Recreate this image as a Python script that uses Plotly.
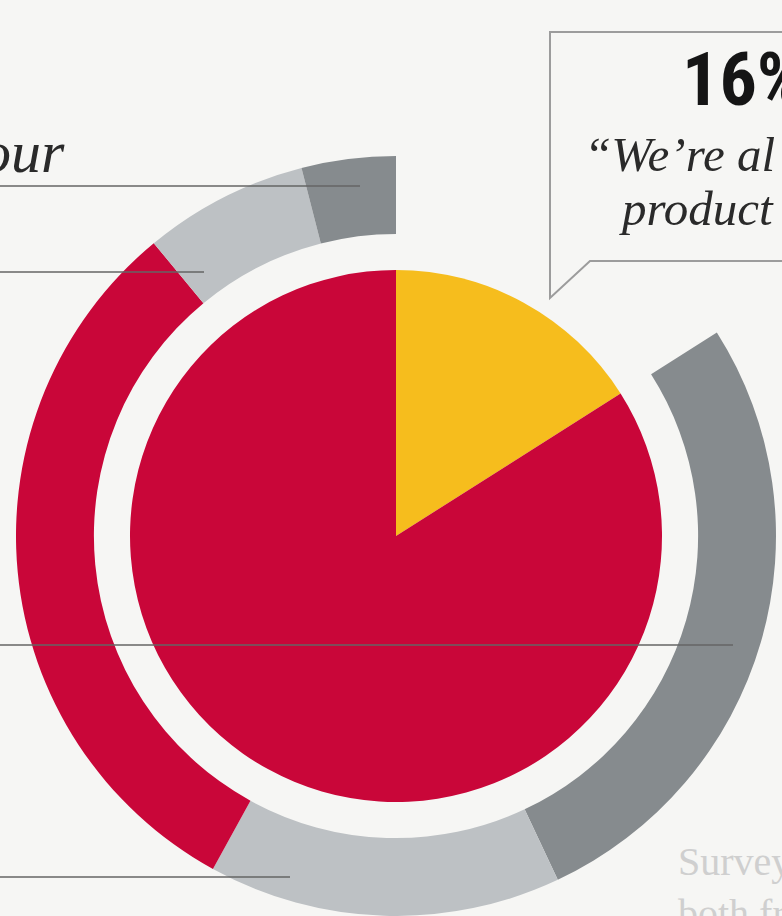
import plotly.graph_objects as go

W, H = 782, 916

# ---- data ----
inner_labels = ["Already in production", "Other"]
inner_values = [16, 84]
inner_colors = ["#f6bd1d", "#c90639"]

outer_labels = ["(gap)", "Segment A", "Segment B", "Segment C", "Segment D", "Segment E"]
outer_values = [16, 27, 15, 31, 7, 4]
outer_colors = ["rgba(0,0,0,0)", "#868b8e", "#bdc1c4", "#c90639", "#bdc1c4", "#868b8e"]

callout_value = "16%"
callout_lines = ["\u201cWe\u2019re al", "product"]
left_fragment = "our"
footer_lines = ["Survey", "both fr"]

# ---- helpers (pixel -> paper) ----
def px(x):
    return x / W

def py(y):
    return 1 - y / H

cx, cy = 396, 536
r_out, r_in_pie = 380, 266

fig = go.Figure()

fig.add_trace(go.Pie(
    labels=outer_labels, values=outer_values, sort=False, direction="clockwise",
    rotation=0, hole=0.795, marker=dict(colors=outer_colors, line=dict(width=0)),
    textinfo="none", hoverinfo="skip", showlegend=False,
    domain=dict(x=[px(cx - r_out), px(cx + r_out)], y=[py(cy + r_out), py(cy - r_out)]),
))

fig.add_trace(go.Pie(
    labels=inner_labels, values=inner_values, sort=False, direction="clockwise",
    rotation=0, marker=dict(colors=inner_colors, line=dict(width=0)),
    textinfo="none", hoverinfo="skip", showlegend=False,
    domain=dict(x=[px(cx - r_in_pie), px(cx + r_in_pie)], y=[py(cy + r_in_pie), py(cy - r_in_pie)]),
))

shapes = []
# leader lines
for (yy, x1) in [(186, 360), (272, 204), (645, 733), (877, 290)]:
    shapes.append(dict(type="line", xref="paper", yref="paper", layer="above",
                       x0=0, x1=px(x1), y0=py(yy), y1=py(yy),
                       line=dict(color="rgba(100,100,100,0.75)", width=2)))
# callout box with tail
path = (f"M {px(800)} {py(32)} L {px(550)} {py(32)} L {px(550)} {py(298)} "
        f"L {px(590)} {py(261)} L {px(800)} {py(261)}")
shapes.append(dict(type="path", xref="paper", yref="paper", layer="above", path=path,
                   line=dict(color="#9c9c9c", width=2), fillcolor="rgba(0,0,0,0)"))

annotations = [
    dict(text=callout_value, x=px(680), y=py(125), xref="paper", yref="paper",
         xanchor="left", yanchor="bottom", showarrow=False,
         font=dict(family="Liberation Sans Narrow, Roboto Condensed, DejaVu Sans Condensed, Arial Narrow, sans-serif",
                   size=74, color="#151515", weight="bold")),
    dict(text=callout_lines[0], x=px(582), y=py(184), xref="paper", yref="paper",
         xanchor="left", yanchor="bottom", showarrow=False,
         font=dict(family="Liberation Serif, serif", size=49, color="#2a2a2a", style="italic")),
    dict(text=callout_lines[1], x=px(617), y=py(238), xref="paper", yref="paper",
         xanchor="left", yanchor="bottom", showarrow=False,
         font=dict(family="Liberation Serif, serif", size=49, color="#2a2a2a", style="italic")),
    dict(text=left_fragment, x=px(67), y=py(187), xref="paper", yref="paper",
         xanchor="right", yanchor="bottom", showarrow=False,
         font=dict(family="Liberation Serif, serif", size=60, color="#2a2a2a", style="italic")),
    dict(text=footer_lines[0], x=px(676), y=py(886), xref="paper", yref="paper",
         xanchor="left", yanchor="bottom", showarrow=False,
         font=dict(family="Liberation Serif, serif", size=40, color="#cfcfcf")),
    dict(text=footer_lines[1], x=px(676), y=py(938), xref="paper", yref="paper",
         xanchor="left", yanchor="bottom", showarrow=False,
         font=dict(family="Liberation Serif, serif", size=40, color="#cfcfcf")),
]

fig.update_layout(
    width=W, height=H, autosize=False,
    margin=dict(l=0, r=0, t=0, b=0, pad=0),
    paper_bgcolor="#f6f6f4", plot_bgcolor="#f6f6f4",
    shapes=shapes, annotations=annotations, showlegend=False,
)

fig.write_html("out.html")
